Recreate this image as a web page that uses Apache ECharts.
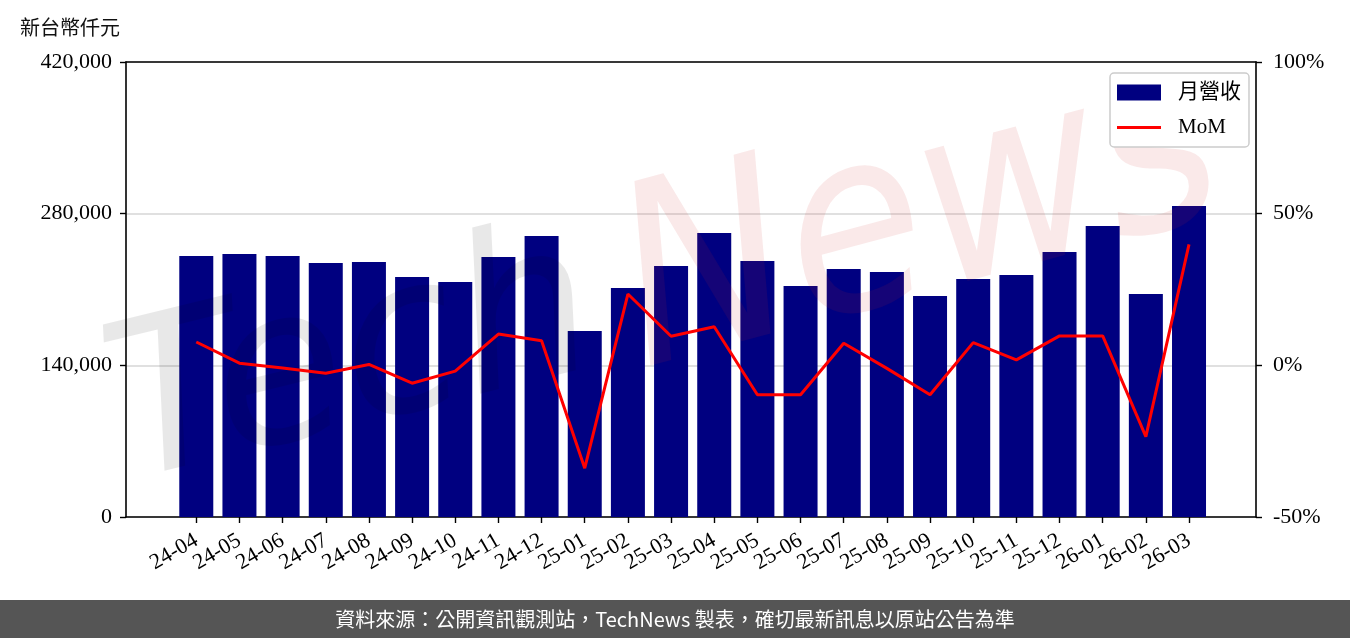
<!DOCTYPE html>
<html>
<head>
<meta charset="utf-8">
<style>
    html, body { margin: 0; padding: 0; background: #fff; }
    #chart { width: 1350px; height: 638px; }
</style>
<script src="https://cdn.jsdelivr.net/npm/echarts@6/dist/echarts.min.js"></script>
</head>
<body>
<div id="chart"></div>
<script>
    // months on the x axis
    var months = ['24-04', '24-05', '24-06', '24-07', '24-08', '24-09', '24-10', '24-11', '24-12',
        '25-01', '25-02', '25-03', '25-04', '25-05', '25-06', '25-07', '25-08', '25-09', '25-10',
        '25-11', '25-12', '26-01', '26-02', '26-03'];
    // 月營收 (新台幣仟元)
    var revenue = [240900, 242800, 240900, 234500, 235400, 221500, 216900, 240000, 259400,
        171700, 211400, 231700, 262200, 236300, 213200, 228900, 226200, 204000, 219700,
        223400, 244600, 268600, 205800, 287100];
    // MoM (%)
    var mom = [7.7, 0.7, -0.9, -2.6, 0.3, -5.9, -1.9, 10.3, 8.1,
        -33.9, 23.5, 9.6, 12.7, -9.7, -9.7, 7.3, -1.0, -9.7, 7.5,
        1.8, 9.7, 9.7, -23.5, 39.9];
    var leftTicks = [0, 140000, 280000, 420000];
    var rightTicks = [-50, 0, 50, 100];

    var serif = "'Liberation Serif', 'Noto Sans CJK TC', serif";
    var axisLine = {show: true, onZero: false, lineStyle: {color: '#000', width: 1.6}};
    var tick = {show: true, length: 6, lineStyle: {color: '#000', width: 1.4}};
    // thin red bar centred in a 44x16 box, for the MoM legend entry
    var lineIcon = 'path://M0,6.4 L44,6.4 L44,9.6 L0,9.6 Z M0,0 L0.01,0 L0.01,0.01 Z M0,16 L0.01,16 L0.01,15.99 Z';

    var chart = echarts.init(document.getElementById('chart'));
    var option = {
        animation: false,
        backgroundColor: '#fff',
        grid: [
            // data area (categories, with the side margins of the frame)
            {left: 174.7, right: 139.4, top: 62, bottom: 121},
            // frame with the visible y axes
            {left: 126, right: 94, top: 62, bottom: 121}
        ],
        legend: {
            orient: 'vertical',
            left: 1110,
            top: 73,
            padding: [9, 8, 9, 7],
            itemGap: 14,
            itemWidth: 44,
            itemHeight: 16,
            backgroundColor: '#fff',
            borderColor: '#cccccc',
            borderWidth: 1.5,
            borderRadius: 4,
            textStyle: {fontFamily: serif, fontSize: 21, color: '#000', padding: [0, 0, 0, 12]},
            data: [{name: '月營收', icon: 'rect'}, {name: 'MoM', icon: lineIcon}]
        },
        xAxis: [{
            type: 'category',
            gridIndex: 0,
            data: months,
            axisLine: {show: false},
            axisTick: {show: true, alignWithLabel: true, interval: 0, length: 6,
                lineStyle: {color: '#000', width: 1.4}},
            axisLabel: {
                interval: 0,
                rotate: 30,
                margin: 22,
                fontFamily: serif,
                fontSize: 22,
                color: '#000'
            },
            splitLine: {show: false}
        }, {
            type: 'value',
            gridIndex: 1,
            min: 0,
            max: 1,
            axisLine: axisLine,
            axisTick: {show: false},
            axisLabel: {show: false},
            splitLine: {show: false}
        }, {
            type: 'value',
            gridIndex: 1,
            position: 'top',
            min: 0,
            max: 1,
            axisLine: axisLine,
            axisTick: {show: false},
            axisLabel: {show: false},
            splitLine: {show: false}
        }],
        yAxis: [{
            type: 'value',
            gridIndex: 0,
            min: leftTicks[0],
            max: leftTicks[leftTicks.length - 1],
            show: false
        }, {
            type: 'value',
            gridIndex: 0,
            min: rightTicks[0],
            max: rightTicks[rightTicks.length - 1],
            show: false
        }, {
            type: 'value',
            gridIndex: 1,
            min: leftTicks[0],
            max: leftTicks[leftTicks.length - 1],
            interval: 140000,
            axisLine: axisLine,
            axisTick: tick,
            axisLabel: {
                margin: 14,
                fontFamily: serif,
                fontSize: 22,
                color: '#000',
                formatter: function (v) { return v.toLocaleString('en-US'); }
            },
            splitLine: {show: true, lineStyle: {color: '#d6d6d6', width: 1.5}}
        }, {
            type: 'value',
            gridIndex: 1,
            position: 'right',
            min: rightTicks[0],
            max: rightTicks[rightTicks.length - 1],
            interval: 50,
            axisLine: axisLine,
            axisTick: tick,
            axisLabel: {
                margin: 17,
                fontFamily: serif,
                fontSize: 22,
                color: '#000',
                formatter: function (v) { return v + '%'; }
            },
            splitLine: {show: false}
        }],
        series: [{
            name: '月營收',
            type: 'bar',
            xAxisIndex: 0,
            yAxisIndex: 0,
            barWidth: 34,
            itemStyle: {color: '#000080'},
            data: revenue
        }, {
            name: 'MoM',
            type: 'line',
            xAxisIndex: 0,
            yAxisIndex: 1,
            symbol: 'none',
            lineStyle: {color: '#ff0000', width: 3},
            itemStyle: {color: '#ff0000'},
            data: mom
        }],
        graphic: [{
            // watermark
            type: 'text',
            x: 140, y: 530,
            rotation: 0.24,
            z: 3,
            silent: true,
            style: {
                text: 'Tech',
                fill: 'rgba(0,0,0,0.09)',
                font: 'italic 215px "DejaVu Sans"',
                textAlign: 'left',
                textVerticalAlign: 'bottom'
            }
        }, {
            type: 'text',
            x: 660, y: 425,
            rotation: 0.26,
            scaleX: 0.9,
            z: 3,
            silent: true,
            style: {
                text: 'News',
                fill: 'rgba(210,40,40,0.1)',
                font: 'italic 250px "DejaVu Sans"',
                textAlign: 'left',
                textVerticalAlign: 'bottom'
            }
        }, {
            type: 'text',
            x: 20, y: 27,
            style: {
                text: '新台幣仟元',
                fill: '#111',
                font: '20px "Noto Sans CJK TC"',
                textAlign: 'left',
                textVerticalAlign: 'middle'
            }
        }, {
            type: 'rect',
            shape: {x: 0, y: 600, width: 1350, height: 38},
            style: {fill: '#555555'}
        }, {
            type: 'text',
            x: 675, y: 619,
            style: {
                text: '資料來源：公開資訊觀測站，TechNews 製表，確切最新訊息以原站公告為準',
                fill: '#fff',
                font: '20px "Noto Sans CJK TC"',
                textAlign: 'center',
                textVerticalAlign: 'middle'
            }
        }]
    };
    chart.setOption(option);
</script>
</body>
</html>
